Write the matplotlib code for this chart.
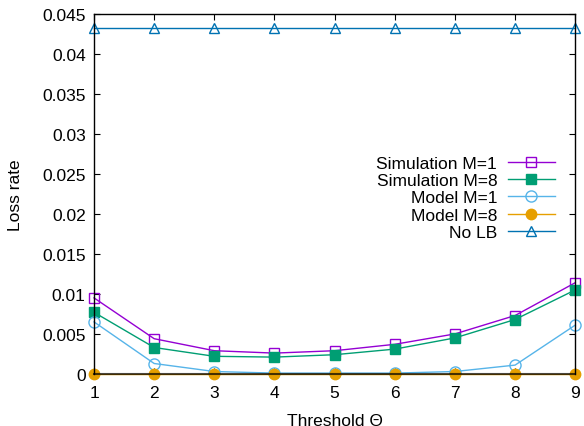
import matplotlib
matplotlib.use("Agg")
import matplotlib.pyplot as plt

plt.rcParams['font.family'] = ['Liberation Sans', 'DejaVu Sans']

thresholds = [1, 2, 3, 4, 5, 6, 7, 8, 9]
sim_m1 = [0.0095, 0.0044, 0.0029, 0.0026, 0.0029, 0.0037, 0.0050, 0.0073, 0.0114]
sim_m8 = [0.0077, 0.0033, 0.0022, 0.0021, 0.0024, 0.0031, 0.0045, 0.0068, 0.0105]
model_m1 = [0.0065, 0.0013, 0.0003, 0.0001, 0.0001, 0.0001, 0.0003, 0.0011, 0.0061]
model_m8 = [0, 0, 0, 0, 0, 0, 0, 0, 0]
no_lb = [0.0432] * 9

fig = plt.figure(figsize=(5.84, 4.27), dpi=100)
ax = fig.add_axes([0.161, 0.122, 0.824, 0.843])

lw = 1.0
ax.plot(thresholds, sim_m1, color="#9400D3", lw=lw, marker="s", ms=7.5,
        mfc="none", mew=1.0, label="Simulation M=1", clip_on=False)
ax.plot(thresholds, sim_m8, color="#009E73", lw=lw, marker="s", ms=7.5,
        mfc="#009E73", mew=1.0, label="Simulation M=8", clip_on=False)
ax.plot(thresholds, model_m1, color="#56B4E9", lw=lw, marker="o", ms=8,
        mfc="none", mew=1.0, label="Model M=1", clip_on=False)
ax.plot(thresholds, model_m8, color="#E69F00", lw=lw, marker="o", ms=7.5,
        mfc="#E69F00", mew=1.0, label="Model M=8", clip_on=False, zorder=3)
ax.plot(thresholds, no_lb, color="#0072B2", lw=lw, marker="^", ms=7.5,
        mfc="none", mew=1.0, label="No LB", clip_on=False)

ax.set_xlim(1, 9)
ax.set_ylim(0, 0.045)
ax.set_xticks(thresholds)
ax.set_yticks([0, 0.005, 0.01, 0.015, 0.02, 0.025, 0.03, 0.035, 0.04, 0.045])
ax.set_yticklabels(["0", "0.005", "0.01", "0.015", "0.02", "0.025", "0.03",
                    "0.035", "0.04", "0.045"])
ax.tick_params(direction="in", top=True, right=True, labelsize=12.5, length=4)
ax.tick_params(axis="x", pad=8)
ax.tick_params(axis="y", pad=6)
ax.set_xlabel("Threshold Θ", fontsize=12.5, labelpad=9)
ax.set_ylabel("Loss rate", fontsize=12.5, labelpad=14)
for s in ax.spines.values():
    s.set_linewidth(1.0)
    s.set_zorder(4)
ax.spines["bottom"].set_alpha(0.7)
ax.spines["bottom"].set_linewidth(1.5)

leg = ax.legend(loc="upper right", bbox_to_anchor=(0.975, 0.63), frameon=False,
                markerfirst=False, fontsize=12.5, handlelength=2.7,
                labelspacing=0.12, borderpad=0.0, handletextpad=0.6)
for t in leg.get_texts():
    t.set_ha("right")

fig.savefig("out.png", dpi=100)
